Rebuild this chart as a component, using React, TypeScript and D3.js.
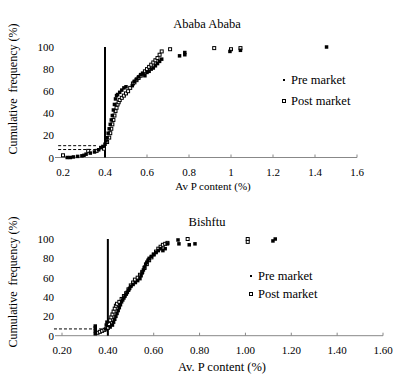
import React from "react";
import * as d3 from "d3";

// ---------- data ----------
const yTicks = [0, 20, 40, 60, 80, 100];
const xTicks = [0.2, 0.4, 0.6, 0.8, 1.0, 1.2, 1.4, 1.6];
const xTickLabelsTop = ["0.2", "0.4", "0.6", "0.8", "1", "1.2", "1.4", "1.6"];
const xTickLabelsBottom = ["0.20", "0.40", "0.60", "0.80", "1.00", "1.20", "1.40", "1.60"];
const seriesNames = ["Pre market", "Post market"];
const thresholdP = 0.4;

// Ababa Ababa: [Av P %, cumulative frequency %]
const topPre: [number, number][] = [
  [0.22, 0], [0.235, 0], [0.25, 0.5], [0.27, 1], [0.29, 1.5], [0.3, 2], [0.31, 3], [0.33, 4],
  [0.35, 5], [0.37, 7], [0.38, 9], [0.39, 10], [0.4, 12], [0.405, 15], [0.41, 18], [0.415, 22],
  [0.42, 26], [0.425, 30], [0.43, 34], [0.435, 38], [0.44, 43], [0.445, 48], [0.45, 53],
  [0.455, 56], [0.46, 57], [0.47, 59], [0.48, 61], [0.49, 63], [0.5, 64], [0.53, 65],
  [0.54, 69], [0.55, 71], [0.56, 73], [0.57, 75], [0.58, 76], [0.59, 74], [0.6, 77],
  [0.61, 78], [0.62, 80], [0.63, 81], [0.64, 83], [0.65, 85], [0.66, 87], [0.67, 89],
  [0.755, 92], [0.78, 93], [0.78, 95], [0.995, 96], [1.045, 97], [1.455, 100],
];
const topPost: [number, number][] = [
  [0.2, 2], [0.32, 6], [0.36, 6], [0.395, 8], [0.41, 14], [0.42, 18], [0.425, 22], [0.43, 26],
  [0.435, 30], [0.44, 34], [0.445, 38], [0.45, 42], [0.455, 45], [0.46, 48], [0.465, 50],
  [0.47, 52], [0.48, 54], [0.49, 56], [0.5, 58], [0.51, 60], [0.52, 63], [0.533, 67],
  [0.54, 68], [0.55, 70], [0.56, 72], [0.57, 74], [0.58, 76], [0.59, 78], [0.6, 80],
  [0.61, 82], [0.62, 84], [0.63, 86], [0.64, 88], [0.65, 90], [0.66, 93], [0.67, 96],
  [0.71, 98], [0.92, 99], [1.0, 98], [1.045, 99],
];
const topDashed = [
  { f: 10.7, from: 0.177, to: 0.357 },
  { f: 7.2, from: 0.177, to: 0.378 },
];

// Bishftu
const bottomPre: [number, number][] = [
  [0.345, 2], [0.345, 5], [0.345, 8], [0.345, 10], [0.39, 7], [0.393, 11], [0.396, 14],
  [0.41, 9], [0.42, 11], [0.425, 14], [0.43, 17], [0.435, 20], [0.44, 23], [0.445, 26],
  [0.45, 29], [0.455, 32], [0.46, 35], [0.465, 37], [0.47, 39], [0.475, 41], [0.48, 43],
  [0.485, 45], [0.49, 47], [0.495, 49], [0.5, 51], [0.51, 53], [0.52, 55], [0.53, 57],
  [0.54, 59], [0.545, 62], [0.55, 65], [0.555, 68], [0.56, 71], [0.565, 74], [0.57, 76],
  [0.575, 78], [0.58, 80], [0.59, 82], [0.6, 84], [0.61, 86], [0.62, 88], [0.63, 90],
  [0.64, 88], [0.65, 90], [0.66, 95], [0.706, 99], [0.71, 95], [0.755, 94], [0.78, 95],
  [1.12, 98], [1.13, 100],
];
const bottomPost: [number, number][] = [
  [0.355, 3], [0.365, 4], [0.375, 5], [0.385, 6], [0.4, 8], [0.405, 12], [0.41, 16],
  [0.415, 19], [0.42, 22], [0.425, 25], [0.43, 28], [0.435, 31], [0.44, 33], [0.45, 35],
  [0.46, 38], [0.47, 41], [0.48, 44], [0.49, 48], [0.5, 52], [0.51, 55], [0.518, 58],
  [0.53, 60], [0.54, 63], [0.55, 66], [0.56, 70], [0.57, 74], [0.58, 78], [0.59, 81],
  [0.6, 84], [0.61, 87], [0.62, 90], [0.63, 92], [0.64, 94], [0.65, 95], [0.66, 96],
  [0.748, 100], [1.01, 100], [1.01, 97],
];
const bottomDashed = [{ f: 7, from: 0.165, to: 0.4 }];

// ---------- drawing ----------
const FONT = "Liberation Serif, DejaVu Serif, serif";

type PanelProps = {
  title: string;
  xTitle: string;
  xLabels: string[];
  pre: [number, number][];
  post: [number, number][];
  dashed: { f: number; from: number; to: number }[];
  px0: number;
  px1: number;
  plotLeft: number;
  yTop: number;
  yBot: number;
  titleY: number;
  xTitleY: number;
  xTitleX: number;
  xTitleSize: number;
  yTitleY: number;
  legendX: number;
  legendY: number;
  legendGap: number;
};

function Panel(p: PanelProps) {
  const x = d3.scaleLinear().domain([0.2, 1.6]).range([p.px0, p.px1]);
  const y = d3.scaleLinear().domain([0, 100]).range([p.yBot, p.yTop]);
  const txt = { fontFamily: FONT };
  return (
    <g fill="#000">
      <text x={207} y={p.titleY} textAnchor="middle" fontSize={12.5} dominantBaseline="central" style={txt}>
        {p.title}
      </text>
      {yTicks.map((t) => (
        <text key={t} x={p.plotLeft - 1} y={y(t)} textAnchor="end" fontSize={11} dominantBaseline="central" style={txt}>
          {t}
        </text>
      ))}
      <line x1={p.plotLeft} x2={p.px1} y1={p.yBot} y2={p.yBot} stroke="#888" strokeWidth={1} />
      {xTicks.map((t, i) => (
        <g key={t}>
          <line x1={x(t)} x2={x(t)} y1={p.yBot} y2={p.yBot - 3} stroke="#888" strokeWidth={1} />
          <text x={x(t)} y={p.yBot + 14} textAnchor="middle" fontSize={11} dominantBaseline="central" style={txt}>
            {p.xLabels[i]}
          </text>
        </g>
      ))}
      <text x={p.xTitleX} y={p.xTitleY} textAnchor="middle" fontSize={p.xTitleSize} dominantBaseline="central" style={txt}>
        {p.xTitle}
      </text>
      <text
        transform={`translate(13,${p.yTitleY}) rotate(-90)`}
        textAnchor="middle"
        fontSize={12}
        dominantBaseline="central"
        style={{ ...txt, whiteSpace: "pre" }}
      >
        {"Cumulative  frequency (%)"}
      </text>
      {p.dashed.map((d, i) => (
        <line key={i} x1={x(d.from)} x2={x(d.to)} y1={y(d.f)} y2={y(d.f)} stroke="#000" strokeWidth={1} strokeDasharray="3,2" />
      ))}
      <line x1={x(thresholdP)} x2={x(thresholdP)} y1={y(0)} y2={y(100)} stroke="#000" strokeWidth={2} />
      {p.post.map((d, i) => (
        <rect key={"o" + i} x={x(d[0]) - 1.5} y={y(d[1]) - 1.5} width={3} height={3} fill="#fff" stroke="#000" strokeWidth={1} />
      ))}
      {p.pre.map((d, i) => (
        <rect key={"p" + i} x={x(d[0]) - 1.75} y={y(d[1]) - 1.75} width={3.5} height={3.5} fill="#000" />
      ))}
      <rect x={p.legendX - 1} y={p.legendY - 1} width={2} height={2} fill="#000" />
      <text x={p.legendX + 7} y={p.legendY} fontSize={12.5} dominantBaseline="central" style={txt}>
        {seriesNames[0]}
      </text>
      <rect x={p.legendX - 1.5} y={p.legendY + p.legendGap - 1.5} width={3} height={3} fill="#fff" stroke="#000" strokeWidth={1} />
      <text x={p.legendX + 7} y={p.legendY + p.legendGap} fontSize={12.5} dominantBaseline="central" style={txt}>
        {seriesNames[1]}
      </text>
    </g>
  );
}

export default function App() {
  return (
    <svg width={412} height={379} style={{ position: "absolute", left: 0, top: 0, background: "#fff", fontFamily: FONT }}>
      <rect width={412} height={379} fill="#fff" />
      <Panel
        title="Ababa Ababa"
        xTitle="Av P content (%)"
        xLabels={xTickLabelsTop}
        pre={topPre}
        post={topPost}
        dashed={topDashed}
        px0={63}
        px1={357}
        plotLeft={55}
        yTop={47}
        yBot={157.5}
        titleY={24}
        xTitleY={186}
        xTitleX={213}
        xTitleSize={11}
        yTitleY={89}
        legendX={284}
        legendY={80}
        legendGap={21}
      />
      <Panel
        title="Bishftu"
        xTitle="Av. P content (%)"
        xLabels={xTickLabelsBottom}
        pre={bottomPre}
        post={bottomPost}
        dashed={bottomDashed}
        px0={62}
        px1={383}
        plotLeft={55}
        yTop={239}
        yBot={335.7}
        titleY={222}
        xTitleY={367}
        xTitleX={222}
        xTitleSize={12.5}
        yTitleY={282}
        legendX={251}
        legendY={276}
        legendGap={18}
      />
    </svg>
  );
}
